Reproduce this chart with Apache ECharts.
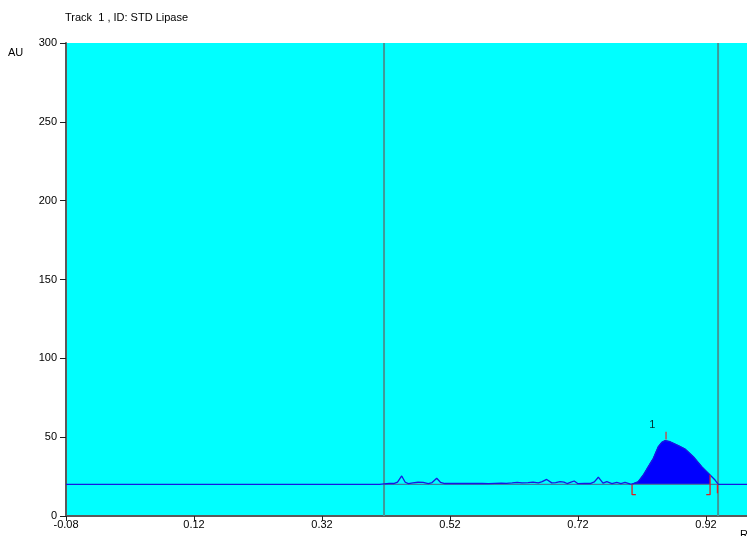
<!DOCTYPE html>
<html>
<head>
<meta charset="utf-8">
<script src="https://cdn.jsdelivr.net/npm/echarts@6/dist/echarts.min.js"></script>
<style>
html,body{margin:0;padding:0;background:#fff;}
#chart{width:747px;height:536px;}
</style>
</head>
<body>
<div id="chart"></div>
<script>
// ---- data ----
const titleText = 'Track  1 , ID: STD Lipase';
const yAxisName = 'AU';
const xAxisName = 'Rf';
const xMin = -0.08, xMax = 0.984, xStep = 0.2;
const yMin = 0, yMax = 300, yStep = 50;
const baselineLevel = 20;

// raw signal (Rf, AU)
const signalX = [-0.08, 0.41, 0.417, 0.425, 0.432, 0.438, 0.4445, 0.450, 0.455, 0.462, 0.470, 0.478, 0.486, 0.492, 0.4992, 0.505, 0.512,
  0.52, 0.53, 0.54, 0.55, 0.56, 0.57, 0.58, 0.59, 0.60, 0.608, 0.617, 0.625, 0.6325, 0.642, 0.6497, 0.658, 0.664, 0.671, 0.679,
  0.685, 0.692, 0.698, 0.703, 0.709, 0.714, 0.72, 0.73, 0.739, 0.7455, 0.7517, 0.759, 0.765, 0.773, 0.7805, 0.787, 0.7934, 0.801,
  0.8044, 0.8138, 0.822, 0.8298, 0.8377, 0.8455, 0.8508, 0.856, 0.8638, 0.8767, 0.8872, 0.9002, 0.9133, 0.9263, 0.9341, 0.9392, 0.945, 0.984];
const signalY = [20, 20, 20.4, 20.6, 20.6, 21.5, 25.4, 21.4, 20.5, 21.0, 21.4, 21.3, 20.6, 21.2, 23.9, 21.4, 20.6,
  20.7, 20.6, 20.6, 20.7, 20.6, 20.6, 20.5, 20.7, 20.8, 20.7, 21.0, 21.3, 21.0, 21.2, 21.5, 21.0, 21.8, 23.2, 21.0,
  21.2, 21.8, 21.5, 20.6, 21.5, 22.2, 20.5, 20.6, 20.6, 21.6, 24.6, 20.8, 21.8, 20.6, 21.4, 20.6, 21.4, 20.4,
  20.2, 21.7, 26.0, 31.3, 36.6, 44.0, 46.7, 47.8, 47.1, 44.6, 42.5, 37.6, 31.3, 26.0, 22.8, 20.1, 20, 20];

// integrated peak 1
const peakStart = 0.8044, peakEnd = 0.9263, peakApex = 0.856;
const peakLabel = '1';
const peakLabelPos = [0.836, 58];
// track window (vertical lines)
const windowX = [0.4169, 0.9388];

// ---- build ----
const signalData = signalX.map((x, i) => [x, signalY[i]]);
const peakData = signalData.filter(p => p[0] >= peakStart - 1e-9 && p[0] <= peakEnd + 1e-9);

const font = 'Liberation Sans, Arial, sans-serif';
const chart = echarts.init(document.getElementById('chart'), null, {renderer: 'canvas'});

const vlineSeries = windowX.map(x => ({
  type: 'line', data: [[x, yMin], [x, yMax]], symbol: 'none', silent: true, z: 1,
  lineStyle: {color: '#3f9a9a', width: 2}
}));

const markerColor = '#e02020';
const markers = [
  [[peakStart, baselineLevel], [peakStart, 13.5], [peakStart + 0.006, 13.5]],
  [[peakEnd, 26.0], [peakEnd, 13.5], [peakEnd - 0.006, 13.5]],
  [[windowX[1] - 0.001, baselineLevel], [windowX[1] - 0.001, 14.5]]
].map(pts => ({
  type: 'line', data: pts, symbol: 'none', silent: true, z: 6,
  lineStyle: {color: markerColor, width: 1.3}
}));

chart.setOption({
  animation: false,
  backgroundColor: '#ffffff',
  grid: {left: 66, top: 43, right: 0, bottom: 20, show: true, backgroundColor: '#00ffff', borderWidth: 0},
  xAxis: {
    type: 'value', min: xMin, max: xMax, interval: xStep,
    axisLine: {show: true, onZero: false, lineStyle: {color: '#5a5a5a', width: 2}},
    axisTick: {show: true, length: 5, lineStyle: {color: '#202020', width: 1}},
    axisLabel: {show: true, margin: 3, color: '#000', fontFamily: font, fontSize: 11, showMaxLabel: false,
      formatter: v => v.toFixed(2)},
    splitLine: {show: false}
  },
  yAxis: {
    type: 'value', min: yMin, max: yMax, interval: yStep,
    axisLine: {show: true, onZero: false, lineStyle: {color: '#5a5a5a', width: 2}},
    axisTick: {show: true, length: 6, lineStyle: {color: '#202020', width: 1}},
    axisLabel: {show: true, margin: 9, color: '#000', fontFamily: font, fontSize: 11},
    splitLine: {show: false}
  },
  graphic: [
    {type: 'text', left: 65, top: 12, style: {text: titleText, font: '11px ' + font, fill: '#000'}},
    {type: 'text', left: 8, top: 47, style: {text: yAxisName, font: '11px ' + font, fill: '#000'}},
    {type: 'text', left: 740, top: 529, style: {text: xAxisName, font: '11px ' + font, fill: '#000'}}
  ],
  series: [
    ...vlineSeries,
    {
      type: 'line', data: peakData, symbol: 'none', silent: true, z: 3,
      lineStyle: {color: '#0000ff', width: 1},
      areaStyle: {color: '#0000ff', opacity: 1, origin: baselineLevel}
    },
    {
      type: 'line', data: [[windowX[0], baselineLevel], [windowX[1], baselineLevel]], symbol: 'none', silent: true, z: 4,
      lineStyle: {color: '#3f7f9f', width: 1.2}
    },
    {
      type: 'line', data: signalData, symbol: 'none', silent: true, z: 5,
      lineStyle: {color: '#1818e0', width: 1.3}
    },
    {
      type: 'line', data: [[peakApex + 0.0015, 48.5], [peakApex + 0.0015, 53.5]], symbol: 'none', silent: true, z: 6,
      lineStyle: {color: '#d04040', width: 1.3}
    },
    ...markers,
    {
      type: 'scatter', data: [peakLabelPos], symbolSize: 0, silent: true, z: 7,
      label: {show: true, formatter: peakLabel, position: 'inside', color: '#000', fontFamily: font, fontSize: 11}
    }
  ]
});
</script>
</body>
</html>
